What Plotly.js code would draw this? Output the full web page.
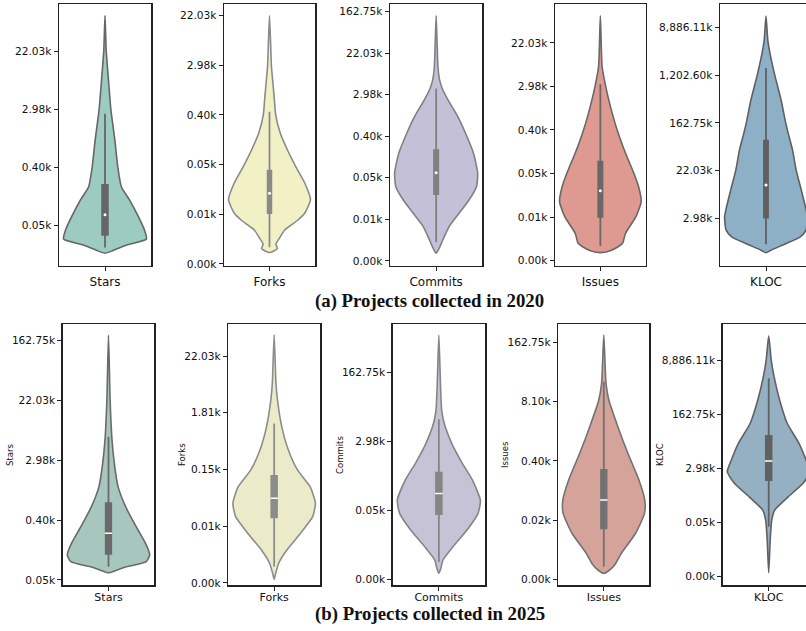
<!DOCTYPE html>
<html>
<head>
<meta charset="utf-8">
<script src="https://cdn.plot.ly/plotly-3.0.1.min.js"></script>
<style>html,body{margin:0;padding:0;background:#fff;}#chart{width:806px;height:631px;}</style>
</head>
<body>
<div id="chart"></div>
<script>
// ---------------- DATA (log-scale values, ln of raw counts) ----------------
const names = ["Stars", "Forks", "Commits", "Issues", "KLOC"];

// 2020 violin outlines: levels (ln value) and relative density (half width)
const stars2020Levels   = [3.05, 3.14, 3.33, 3.54, 3.85, 4.30, 4.88, 5.33, 6.02, 6.95, 7.99, 9.02, 10.06, 11.24];
const stars2020Density  = [0, 8, 22, 42, 40, 34, 25, 16.7, 13, 10, 6, 3.5, 1.2, 0];
const forks2020Levels   = [0.46, 0.62, 0.80, 1.03, 1.37, 1.77, 2.05, 2.60, 3.25, 3.92, 4.59, 5.26, 6.0, 6.6, 7.28, 7.95, 8.8, 10.0];
const forks2020Density  = [0, 8, 6.5, 10, 15.5, 29, 36, 41.7, 36, 26.7, 18.3, 11, 6.3, 5, 3.5, 2, 1.2, 0];
const commits2020Levels = [0.37, 0.61, 1.01, 1.65, 2.29, 2.93, 3.57, 4.22, 5.18, 6.14, 6.94, 7.74, 8.22, 8.7, 9.34, 11.8];
const commits2020Density= [0, 3, 6.7, 13, 23, 33, 40.5, 41.7, 37.5, 29.5, 21.7, 12, 6.7, 3.5, 1.8, 0];
const issues2020Levels  = [0.37, 0.46, 0.64, 0.80, 1.26, 2.02, 2.71, 3.39, 4.0, 4.93, 6.0, 7.06, 7.98, 8.9, 11.24];
const issues2020Density = [0, 10, 18, 22.5, 25.5, 36, 41.3, 38.7, 34, 25.5, 17, 10.3, 5.5, 1.8, 0];
const kloc2020Levels    = [6.56, 6.67, 6.95, 7.23, 7.51, 8.07, 8.49, 9.18, 10.0, 10.86, 11.56, 12.0, 12.95, 14.0, 14.9, 15.46, 16.48];
const kloc2020Density   = [0, 5, 20, 34, 39.5, 41, 39, 35, 30, 26.3, 22, 19.5, 15, 8.7, 4, 1.8, 0];

// 2025 violin outlines
const stars2025Levels   = [4.24, 4.31, 4.44, 4.61, 4.84, 5.23, 5.78, 6.45, 7.12, 7.79, 8.68, 10.02, 12.19];
const stars2025Density  = [0, 6.7, 18, 37.5, 41, 36.7, 27.5, 17, 9.5, 6.2, 3.5, 1.6, 0];
const forks2025Levels   = [0.16, 0.43, 0.87, 1.45, 2.19, 2.92, 3.51, 4.24, 4.98, 5.86, 6.89, 8.06, 8.8, 10.93];
const forks2025Density  = [0, 1.5, 4.5, 12.5, 26, 38, 40.7, 35.5, 23, 14, 7.5, 3.3, 1.8, 0];
const commits2025Levels = [0.35, 0.64, 1.12, 1.89, 2.86, 3.83, 4.6, 5.77, 6.74, 7.9, 9.06, 9.83, 11.38, 14.19];
const commits2025Density= [0, 2, 4, 14, 28, 39, 41.3, 33.3, 23.3, 12.8, 5.3, 2.8, 1.6, 0];
const issues2025Levels  = [0.3, 0.47, 0.72, 1.32, 2.33, 3.34, 4.02, 5.03, 6.38, 7.73, 9.08, 9.92, 12.37];
const issues2025Density = [0, 5.8, 10.8, 17.5, 31.7, 40.5, 40.8, 35, 24, 14, 5, 2.2, 0];
const kloc2025Levels    = [0.3, 2.71, 4.19, 4.93, 5.91, 6.9, 7.75, 8.62, 9.85, 11.33, 13.05, 14.77, 16.0, 17.78];
const kloc2025Density   = [0, 1.5, 3, 6, 19.5, 34, 41, 37, 30, 18.3, 10.8, 5.3, 2.5, 0];

// box stats [whisker low, q1, median, q3, whisker high] (ln)
const box2020 = {
  Stars:   [3.25, 3.65, 4.38, 5.44, 7.86],
  Forks:   [0.67, 2.01, 2.85, 3.79, 6.13],
  Commits: [0.9, 3.17, 4.24, 5.37, 8.3],
  Issues:  [0.67, 1.97, 3.21, 4.59, 8.1],
  KLOC:    [6.92, 8.0, 9.4, 11.3, 14.3]
};
const box2025 = {
  Stars:   [4.44, 4.84, 5.56, 6.6, 8.79],
  Forks:   [0.72, 2.85, 3.73, 4.76, 7.03],
  Commits: [1.0, 3.73, 4.99, 6.25, 9.3],
  Issues:  [0.64, 2.53, 4.02, 5.58, 10.0],
  KLOC:    [3.7, 7.07, 8.55, 10.47, 14.65]
};

// tick positions (ln) and labels
const ticks2020 = {
  Stars:   {vals: [4, 6, 8, 10], text: ["0.05k", "0.40k", "2.98k", "22.03k"]},
  Forks:   {vals: [0, 2, 4, 6, 8, 10], text: ["0.00k", "0.01k", "0.05k", "0.40k", "2.98k", "22.03k"]},
  Commits: {vals: [0, 2, 4, 6, 8, 10, 12], text: ["0.00k", "0.01k", "0.05k", "0.40k", "2.98k", "22.03k", "162.75k"]},
  Issues:  {vals: [0, 2, 4, 6, 8, 10], text: ["0.00k", "0.01k", "0.05k", "0.40k", "2.98k", "22.03k"]},
  KLOC:    {vals: [8, 10, 12, 14, 16], text: ["2.98k", "22.03k", "162.75k", "1,202.60k", "8,886.11k"]}
};
const ticks2025 = {
  Stars:   {vals: [4, 6, 8, 10, 12], text: ["0.05k", "0.40k", "2.98k", "22.03k", "162.75k"]},
  Forks:   {vals: [0, 2.5, 5, 7.5, 10], text: ["0.00k", "0.01k", "0.15k", "1.81k", "22.03k"]},
  Commits: {vals: [0, 4, 8, 12], text: ["0.00k", "0.05k", "2.98k", "162.75k"]},
  Issues:  {vals: [0, 3, 6, 9, 12], text: ["0.00k", "0.02k", "0.40k", "8.10k", "162.75k"]},
  KLOC:    {vals: [0, 4, 8, 12, 16], text: ["0.00k", "0.05k", "2.98k", "162.75k", "8,886.11k"]}
};

const captionA = "(a) Projects collected in 2020";
const captionB = "(b) Projects collected in 2025";

// ---------------- STYLE / LAYOUT ----------------
const W = 806, H = 631;
const panels = [
  // row 1
  {name: "Stars",   lv: stars2020Levels,   dn: stars2020Density,   box: box2020.Stars,   tk: ticks2020.Stars,   x0: 59,    x1: 151,   y0: 4,   y1: 265.7, yr: [2.62, 11.64], fill: "#9ccbc1", line: "#666666", bw: 7.5, med: "dot", xfont: 12, xstand: 0},
  {name: "Forks",   lv: forks2020Levels,   dn: forks2020Density,   box: box2020.Forks,   tk: ticks2020.Forks,   x0: 224,   x1: 315,   y0: 4,   y1: 265.7, yr: [-0.07, 10.47], fill: "#f1f1c5", line: "#8a8a8a", bw: 5.5, med: "dot", xfont: 12, xstand: 0},
  {name: "Commits", lv: commits2020Levels, dn: commits2020Density, box: box2020.Commits, tk: ticks2020.Commits, x0: 390,   x1: 482.3, y0: 4,   y1: 265.7, yr: [-0.23, 12.36], fill: "#c3c0d8", line: "#808080", bw: 6, med: "dot", xfont: 12, xstand: 0},
  {name: "Issues",  lv: issues2020Levels,  dn: issues2020Density,  box: box2020.Issues,  tk: ticks2020.Issues,  x0: 555,   x1: 645.7, y0: 4,   y1: 265.7, yr: [-0.23, 11.78], fill: "#de9a91", line: "#686868", bw: 6, med: "dot", xfont: 12, xstand: 0},
  {name: "KLOC",    lv: kloc2020Levels,    dn: kloc2020Density,    box: box2020.KLOC,    tk: ticks2020.KLOC,    x0: 720,   x1: 812,   y0: 4,   y1: 265.7, yr: [6.02, 16.98], fill: "#8eb0c7", line: "#5f5f5f", bw: 5.8, med: "dot", xfont: 12, xstand: 0},
  // row 2
  {name: "Stars",   lv: stars2025Levels,   dn: stars2025Density,   box: box2025.Stars,   tk: ticks2025.Stars,   x0: 62.7,  x1: 154.3, y0: 324, y1: 585, yr: [3.83, 12.56], fill: "#a6c6be", line: "#6a6a6a", bw: 7.3, med: "line", xfont: 11, xstand: -3, title: true, tx: 10},
  {name: "Forks",   lv: forks2025Levels,   dn: forks2025Density,   box: box2025.Forks,   tk: ticks2025.Forks,   x0: 228.3, x1: 320,   y0: 324, y1: 585, yr: [-0.09, 11.41], fill: "#ebebca", line: "#8c8c8c", bw: 7.5, med: "line", xfont: 11, xstand: -3, title: true, tx: 182},
  {name: "Commits", lv: commits2025Levels, dn: commits2025Density, box: box2025.Commits, tk: ticks2025.Commits, x0: 392.7, x1: 485,   y0: 324, y1: 585, yr: [-0.33, 14.83], fill: "#c6c3d7", line: "#858585", bw: 7.5, med: "line", xfont: 11, xstand: -3, title: true, tx: 340},
  {name: "Issues",  lv: issues2025Levels,  dn: issues2025Density,  box: box2025.Issues,  tk: ticks2025.Issues,  x0: 558.3, x1: 649.3, y0: 324, y1: 585, yr: [-0.29, 12.93], fill: "#d6a39b", line: "#727272", bw: 7.3, med: "line", xfont: 11, xstand: -3, title: true, tx: 505},
  {name: "KLOC",    lv: kloc2025Levels,    dn: kloc2025Density,    box: box2025.KLOC,    tk: ticks2025.KLOC,    x0: 722.7, x1: 814.7, y0: 324, y1: 585, yr: [-0.61, 18.66], fill: "#95afc3", line: "#616161", bw: 7.5, med: "line", xfont: 11, xstand: -3, title: true, tx: 660}
];

const MAXHW = 0.45;
const traces = [];
const layout = {
  width: W, height: H,
  margin: {l: 0, r: 0, t: 0, b: 0},
  paper_bgcolor: "#ffffff", plot_bgcolor: "#ffffff",
  showlegend: false,
  font: {family: "DejaVu Sans, sans-serif", color: "#111111"},
  annotations: []
};

panels.forEach((p, i) => {
  const k = i === 0 ? "" : String(i + 1);
  const xa = "x" + k, ya = "y" + k;
  const maxd = Math.max(...p.dn);
  const hw = p.dn.map(d => d / maxd * MAXHW);
  const n = p.lv.length;
  const xs = [], ys = [];
  for (let j = 0; j < n; j++) { xs.push(hw[j]); ys.push(p.lv[j]); }
  for (let j = n - 2; j >= 0; j--) { xs.push(-hw[j]); ys.push(p.lv[j]); }
  traces.push({
    type: "scatter", mode: "lines", x: xs, y: ys, xaxis: xa, yaxis: ya,
    fill: "toself", fillcolor: p.fill,
    line: {color: p.line, width: 1.6, shape: "spline", smoothing: 0.55},
    hoverinfo: "skip"
  });
  const b = p.box;
  // whisker
  traces.push({type: "scatter", mode: "lines", x: [0, 0], y: [b[0], b[4]], xaxis: xa, yaxis: ya,
    line: {color: p.line, width: 1.8}, hoverinfo: "skip"});
  // box
  traces.push({type: "scatter", mode: "lines", x: [0, 0], y: [b[1], b[3]], xaxis: xa, yaxis: ya,
    line: {color: p.line, width: p.bw}, hoverinfo: "skip"});
  // median
  if (p.med === "dot") {
    traces.push({type: "scatter", mode: "markers", x: [0], y: [b[2]], xaxis: xa, yaxis: ya,
      marker: {color: "#ffffff", size: 3, line: {width: 0}}, hoverinfo: "skip"});
  } else {
    const pw = p.x1 - p.x0;
    const half = (p.bw / 2) / pw;
    traces.push({type: "scatter", mode: "lines", x: [-half, half], y: [b[2], b[2]], xaxis: xa, yaxis: ya,
      line: {color: "#ffffff", width: 1.5}, hoverinfo: "skip"});
  }
  // axes
  const x1c = Math.min(p.x1, W);
  const clip = (p.x1 - x1c) / (p.x1 - p.x0);
  layout["xaxis" + k] = {
    domain: [p.x0 / W, x1c / W], anchor: ya,
    range: [-0.5, 0.5 - clip],
    tickvals: [0], ticktext: [p.name],
    ticks: "outside", ticklen: 4, tickwidth: 1, tickcolor: "#222",
    ticklabelstandoff: p.xstand,
    tickfont: {size: p.xfont, color: "#111"},
    showline: true, mirror: true, linecolor: "#222", linewidth: 1.5,
    showgrid: false, zeroline: false, fixedrange: true
  };
  layout["yaxis" + k] = {
    domain: [1 - p.y1 / H, 1 - p.y0 / H], anchor: xa,
    range: p.yr,
    tickvals: p.tk.vals, ticktext: p.tk.text,
    ticks: "outside", ticklen: 4, tickwidth: 1, tickcolor: "#222",
    tickfont: {size: 10.6, color: "#111"},
    showline: true, mirror: true, linecolor: "#222", linewidth: 1.5,
    showgrid: false, zeroline: false, fixedrange: true
  };
  if (p.title) {
    layout.annotations.push({
      text: p.name, xref: "paper", yref: "paper",
      x: p.tx / W, y: 1 - 455 / H, textangle: -90, showarrow: false,
      xanchor: "center", yanchor: "middle",
      font: {size: 8.5, color: "#111", family: "DejaVu Sans, sans-serif"}
    });
  }
});

layout.annotations.push({
  text: "<b>" + captionA + "</b>", xref: "paper", yref: "paper",
  x: 429.5 / W, y: 1 - 301 / H, showarrow: false, xanchor: "center", yanchor: "middle",
  font: {size: 18.8, family: "Liberation Serif, Times New Roman, serif", color: "#111"}
});
layout.annotations.push({
  text: "<b>" + captionB + "</b>", xref: "paper", yref: "paper",
  x: 429.5 / W, y: 1 - 614 / H, showarrow: false, xanchor: "center", yanchor: "middle",
  font: {size: 18.8, family: "Liberation Serif, Times New Roman, serif", color: "#111"}
});

Plotly.newPlot("chart", traces, layout, {staticPlot: true, displayModeBar: false});
</script>
</body>
</html>
